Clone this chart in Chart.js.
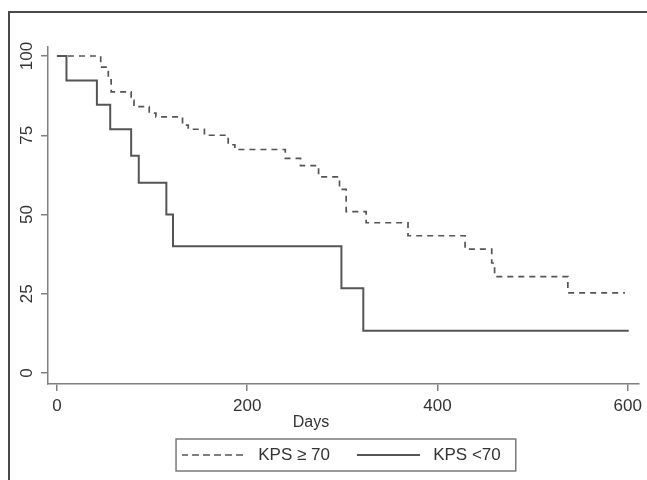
<!DOCTYPE html>
<html>
<head>
<meta charset="utf-8">
<script src="https://cdn.jsdelivr.net/npm/chart.js@4.4.1/dist/chart.umd.min.js"></script>
<style>
  html, body { margin: 0; padding: 0; background: #ffffff; }
  #wrap { width: 647px; height: 480px; }
</style>
</head>
<body>
<div id="wrap"><canvas id="c" width="647" height="480"></canvas></div>
<script>
// ---- data (Kaplan-Meier step curves) ----
const seriesLabels = ['KPS \u2265 70', 'KPS <70'];

const highDays = [0, 46, 54, 57, 78, 81, 97, 104, 132, 138, 155, 180, 187, 240, 256, 275, 297, 304, 325, 369, 429, 457, 460, 537, 597];
const highSurv = [100, 96.5, 92.5, 88.7, 86, 84, 82, 80.8, 78.2, 76.9, 75, 72, 70.5, 67.7, 65.4, 61.9, 57.9, 50.9, 47.4, 43.3, 39.1, 34.7, 30.4, 25.3, 25.3];

const lowDays = [0, 10, 42, 56, 78, 86, 115, 122, 299, 322, 601];
const lowSurv = [100, 92.3, 84.6, 76.9, 68.5, 60, 50, 40, 26.7, 13.3, 13.3];

const xTickValues = [0, 200, 400, 600];
const yTickValues = [0, 25, 50, 75, 100];
const xTitle = 'Days';

function toPoints(xs, ys) { return xs.map((x, i) => ({ x: x, y: ys[i] })); }

const AXIS = '#808080';
const INK = '#333333';
const LINE = '#555555';
const FONT = '"Liberation Sans", Arial, Helvetica, sans-serif';

const framePlugin = {
  id: 'frame',
  beforeDraw(chart) {
    const ctx = chart.ctx;
    ctx.save();
    ctx.strokeStyle = '#4a4a4a';
    ctx.lineWidth = 2;
    ctx.strokeRect(9, 12, 700, 700);
    ctx.restore();
  }
};

const yLabelPlugin = {
  id: 'yLabels',
  afterDraw(chart) {
    const ctx = chart.ctx;
    const ys = chart.scales.y;
    ctx.save();
    ctx.fillStyle = INK;
    ctx.font = '17px ' + FONT;
    ctx.textAlign = 'center';
    ctx.textBaseline = 'middle';
    ys.ticks.forEach(t => {
      const py = ys.getPixelForValue(t.value);
      ctx.save();
      ctx.translate(27, py);
      ctx.rotate(-Math.PI / 2);
      ctx.fillText(String(t.value), 0, 0);
      ctx.restore();
    });
    // x axis title
    ctx.font = '16px ' + FONT;
    ctx.fillText(xTitle, 311, 423);
    ctx.restore();
  }
};

const legendBoxPlugin = {
  id: 'legendBox',
  afterDraw(chart) {
    const hb = chart.legend && chart.legend.legendHitBoxes;
    if (!hb || !hb.length) return;
    const first = hb[0], last = hb[hb.length - 1];
    const left = first.left - 6;
    const right = last.left + last.width + 15;
    const top = first.top - 7.5;
    const bottom = first.top + first.height + 7.5;
    const ctx = chart.ctx;
    ctx.save();
    ctx.strokeStyle = '#7a7a7a';
    ctx.lineWidth = 1.5;
    ctx.strokeRect(left, top, right - left, bottom - top);
    ctx.restore();
  }
};

new Chart(document.getElementById('c'), {
  type: 'line',
  data: {
    datasets: [
      {
        label: seriesLabels[0],
        data: toPoints(highDays, highSurv),
        stepped: 'before',
        borderColor: LINE,
        borderWidth: 1.7,
        borderDash: [6, 5],
        pointRadius: 0,
        fill: false
      },
      {
        label: seriesLabels[1],
        data: toPoints(lowDays, lowSurv),
        stepped: 'before',
        borderColor: LINE,
        borderWidth: 2,
        pointRadius: 0,
        fill: false
      }
    ]
  },
  options: {
    responsive: false,
    animation: false,
    devicePixelRatio: 1,
    layout: { padding: { left: 37.8, right: 2, top: 47, bottom: 6.5 } },
    plugins: {
      title: { display: false },
      tooltip: { enabled: false },
      legend: {
        display: true,
        position: 'bottom',
        align: 'center',
        labels: {
          boxWidth: 63,
          boxHeight: 0,
          padding: 27,
          color: INK,
          font: { family: FONT, size: 17 },
          generateLabels(chart) {
            return chart.data.datasets.map((ds, i) => ({
              text: ' ' + ds.label,
              fillStyle: 'rgba(0,0,0,0)',
              strokeStyle: ds.borderColor,
              lineWidth: ds.borderWidth,
              lineDash: ds.borderDash || [],
              hidden: false,
              datasetIndex: i,
              fontColor: INK
            }));
          }
        }
      }
    },
    scales: {
      x: {
        type: 'linear',
        position: 'bottom',
        min: -9.4,
        max: 611.4,
        afterBuildTicks(scale) { scale.ticks = xTickValues.map(v => ({ value: v })); },
        afterFit(scale) { scale.height = 35.5; },
        ticks: {
          color: INK,
          padding: 5,
          maxRotation: 0,
          font: { family: FONT, size: 17 },
          callback: v => String(v)
        },
        grid: { display: true, drawOnChartArea: false, drawTicks: true, tickLength: 7, color: AXIS, lineWidth: 1.5 },
        border: { display: true, color: AXIS, width: 1.5 },
        title: { display: false }
      },
      y: {
        type: 'linear',
        position: 'left',
        min: -3.47,
        max: 102.84,
        afterBuildTicks(scale) { scale.ticks = yTickValues.map(v => ({ value: v })); },
        afterFit(scale) { scale.width = 10.2; },
        ticks: { display: false },
        grid: { display: true, drawOnChartArea: false, drawTicks: true, tickLength: 7, color: AXIS, lineWidth: 1.5 },
        border: { display: true, color: AXIS, width: 1.5 },
        title: { display: false }
      }
    }
  },
  plugins: [framePlugin, yLabelPlugin, legendBoxPlugin]
});
</script>
</body>
</html>
